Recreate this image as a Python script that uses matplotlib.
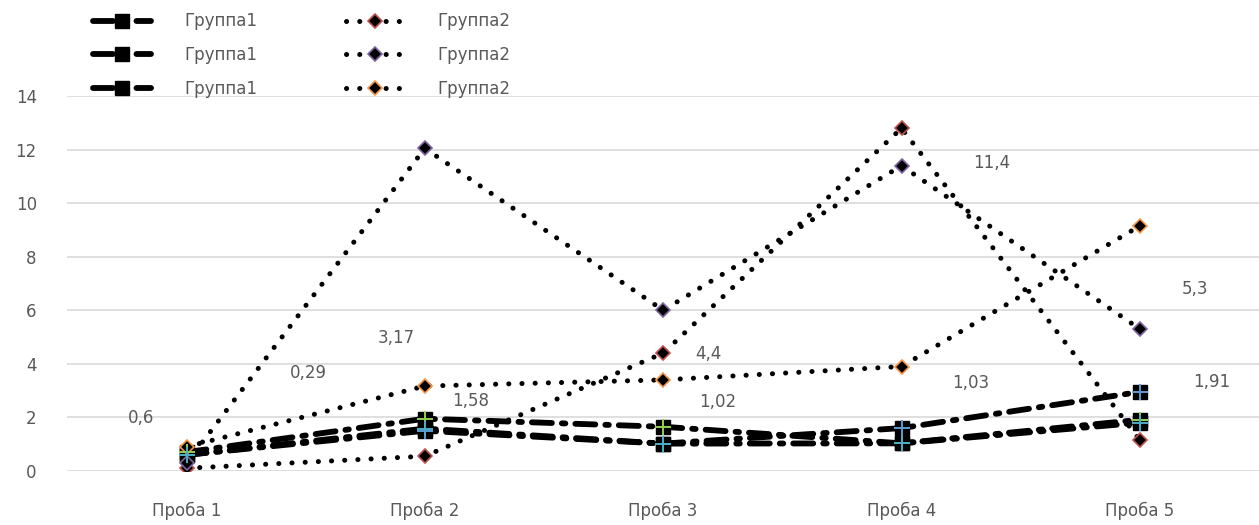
import numpy as np
import matplotlib
matplotlib.use("Agg")
import matplotlib.pyplot as plt

plt.rcParams['font.family'] = ['DejaVu Sans']
plt.rcParams['lines.scale_dashes'] = False

categories = ['Проба 1', 'Проба 2', 'Проба 3', 'Проба 4', 'Проба 5']

# Группа1 (штрих-пунктир, квадратные маркеры)
g1_blue = [0.60, 1.50, 1.02, 1.60, 2.95]
g1_green = [0.70, 1.95, 1.65, 1.03, 1.91]
g1_cyan = [0.60, 1.58, 1.02, 1.03, 1.80]

# Группа2 (пунктир точками, ромбы)
g2_red = [0.10, 0.55, 4.40, 12.80, 1.15]
g2_purple = [0.29, 12.05, 6.00, 11.40, 5.30]
g2_orange = [0.90, 3.17, 3.40, 3.90, 9.15]

# подписи данных (текст, позиция в координатах данных)
label_texts = ['0,6', '0,29', '3,17', '1,58', '4,4', '1,02', '11,4', '1,03', '5,3', '1,91']
label_x = [-0.19, 0.51, 0.88, 1.19, 2.19, 2.23, 3.38, 3.29, 4.23, 4.30]
label_y = [1.98, 3.67, 4.98, 2.62, 4.38, 2.58, 11.5, 3.30, 6.78, 3.33]

x = np.arange(len(categories))
grey = '#595959'

fig = plt.figure(figsize=(12.59, 5.25), dpi=100)
ax = fig.add_axes([0.0535, 0.103, 0.9465, 0.714])

handles = []
g1_style = (0, (14.4, 7.2, 2.5, 7.2))
for vals, col in [(g1_blue, '#5B9BD5'), (g1_green, '#92D050'), (g1_cyan, '#4BACC6')]:
    ln, = ax.plot(x, vals, color='black', lw=4.2, linestyle=g1_style,
                  dash_capstyle='round', marker='s', ms=10, mfc='black', mec='black', zorder=3)
    ax.plot(x, vals, linestyle='none', marker='+', ms=12, mew=1.4, color=col, zorder=4)
    handles.append(ln)

g2_style = (0, (0.1, 9.4))
g2_handles = []
for vals, col in [(g2_red, '#C0504D'), (g2_purple, '#8064A2'), (g2_orange, '#F79646')]:
    ln, = ax.plot(x, vals, color='black', lw=3.6, linestyle=g2_style,
                  dash_capstyle='round', marker='D', ms=7, mfc='black', mec=col, mew=1.2, zorder=3)
    g2_handles.append(ln)

for t, lx, ly in zip(label_texts, label_x, label_y):
    ax.text(lx, ly, t, fontsize=12, color=grey, ha='center', va='center')

ax.set_xlim(-0.5, 4.5)
ax.set_ylim(0, 14)
ax.set_yticks(np.arange(0, 15, 2))
ax.set_xticks(x)
ax.set_xticklabels(categories)
ax.tick_params(axis='both', length=0, labelsize=12, colors=grey)
ax.tick_params(axis='x', pad=22)
ax.tick_params(axis='y', pad=22)
ax.grid(axis='y', color='#D9D9D9', lw=1.2)
ax.set_axisbelow(True)
for s in ax.spines.values():
    s.set_visible(False)

leg_handles = [handles[0], handles[1], handles[2], g2_handles[0], g2_handles[1], g2_handles[2]]
leg_labels = ['Группа1'] * 3 + ['Группа2'] * 3
fig.legend(leg_handles, leg_labels, loc='upper left', bbox_to_anchor=(0.062, 1.005), ncol=2,
           frameon=False, fontsize=12, labelcolor=grey, handlelength=3.5, handletextpad=2.0,
           columnspacing=5.3, labelspacing=0.95)

fig.savefig('out.png', dpi=100)
